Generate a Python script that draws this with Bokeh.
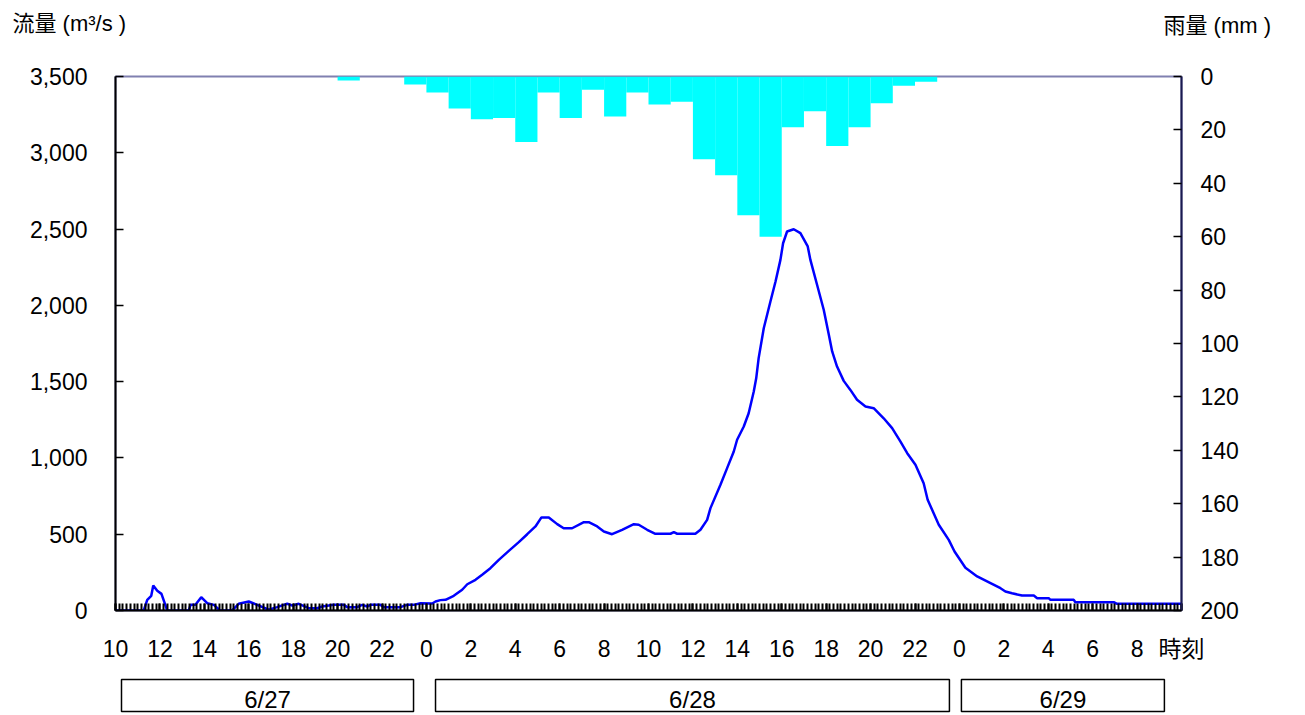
from bokeh.plotting import figure
from bokeh.models import Range1d, LinearAxis, FixedTicker, NumeralTickFormatter
from bokeh.layouts import column
from bokeh.core.properties import value
from bokeh.embed import file_html
from bokeh.resources import INLINE

# ---------------- data ----------------
# time axis: hours elapsed since 6/27 10:00
x_tick_hours = [0, 2, 4, 6, 8, 10, 12, 14, 16, 18, 20, 22, 24, 26, 28, 30, 32, 34, 36, 38, 40, 42, 44, 46, 48]
x_tick_labels = ["10", "12", "14", "16", "18", "20", "22", "0", "2", "4", "6", "8", "10", "12",
                 "14", "16", "18", "20", "22", "0", "2", "4", "6", "8", "時刻"]

# discharge (m3/s)
flow_hours = [0.0, 0.3, 1.27, 1.43, 1.61, 1.70, 1.88, 2.07, 2.33, 3.30, 3.38, 3.60, 3.86, 4.13, 4.43,
              4.70, 5.25, 5.55, 6.00, 6.38, 6.90, 7.28, 7.73, 7.96, 8.25, 8.70, 9.08, 9.31, 9.83,
              10.28, 10.43, 10.88, 11.11, 11.33, 11.48, 11.93, 12.08, 12.83, 13.13, 13.43, 13.73,
              14.26, 14.41, 14.63, 14.86, 15.23, 15.61, 15.84, 16.21, 16.51, 16.88, 17.26, 17.71,
              18.16, 18.54, 18.91, 19.18, 19.51, 19.89, 20.18, 20.56, 21.09, 21.31, 21.69, 21.99,
              22.36, 22.81, 23.34, 23.56, 23.94, 24.31, 24.99, 25.14, 25.29, 26.11, 26.34, 26.64,
              26.79, 27.24, 27.54, 27.84, 27.99, 28.29, 28.51, 28.74, 28.85, 28.96, 29.19, 29.49,
              29.72, 29.94, 30.06, 30.24, 30.54, 30.84, 31.17, 31.29, 31.59, 31.89, 32.12, 32.27,
              32.49, 32.79, 33.09, 33.39, 33.77, 34.14, 34.59, 34.97, 35.34, 35.65, 36.02, 36.39,
              36.57, 37.07, 37.52, 37.78, 38.27, 38.80, 39.40, 39.85, 40.07, 40.37, 40.82, 41.35,
              41.50, 42.02, 42.10, 43.15, 43.22, 44.95, 45.10, 48.0]
flow_values = [0, 0, 0, 70, 96, 164, 129, 109, 0, 0, 37, 37, 87, 48, 37,
               0, 0, 44, 59, 37, 5, 22, 44, 33, 44, 15, 15, 26, 37,
               37, 22, 22, 37, 26, 37, 37, 22, 22, 37, 37, 48,
               46, 59, 68, 70, 96, 136, 172, 201, 234, 277, 332, 391,
               448, 500, 551, 610, 610, 566, 539, 539, 579, 579, 551, 518,
               500, 529, 566, 562, 529, 503, 503, 513, 503, 503, 529, 594,
               671, 824, 933, 1042, 1119, 1206, 1293, 1435, 1522, 1654, 1850, 2025,
               2156, 2298, 2407, 2484, 2499, 2473, 2386, 2298, 2135, 1971, 1807, 1698,
               1599, 1505, 1446, 1381, 1337, 1326, 1260, 1195, 1108, 1031, 955, 834,
               726, 562, 463, 387, 280, 223, 179, 146, 125, 113, 98, 98,
               81, 81, 70, 70, 54, 54, 44, 44]

# hourly rainfall (mm), hour start since 6/27 10:00
rain_hours = [10, 13, 14, 15, 16, 17, 18, 19, 20, 21, 22, 23, 24, 25, 26, 27, 28, 29, 30, 31, 32, 33, 34, 35, 36]
rain_values = [1.5, 3, 6, 12, 16, 15.5, 24.5, 6, 15.5, 5, 15, 6, 10.5, 9.5, 31, 37, 52, 60, 19, 13, 26, 19, 10, 3.5, 2]

flow_ticks = [0, 500, 1000, 1500, 2000, 2500, 3000, 3500]
rain_ticks = [0, 20, 40, 60, 80, 100, 120, 140, 160, 180, 200]

date_labels = ["6/27", "6/28", "6/29"]
date_box_left = [0.27, 14.41, 38.09]
date_box_right = [13.42, 37.55, 47.23]

flow_title = "流量 (m³/s )"
rain_title = "雨量 (mm )"

# ---------------- styling ----------------
W = 1297
NUM_FONT = "Liberation Sans"
MIX_FONT = "Liberation Sans, Noto Sans CJK JP"

# header with the two axis titles (pixel-unit canvas)
p0 = figure(width=W, height=40, x_range=Range1d(0, W), y_range=Range1d(0, 40),
            output_backend="svg", toolbar_location=None, x_axis_type=None, y_axis_type=None,
            min_border_left=0, min_border_right=0, min_border_top=0, min_border_bottom=0)
if "frame_align" in p0.properties():
    p0.frame_align = False
p0.outline_line_color = None
p0.background_fill_color = "white"
p0.border_fill_color = "white"
p0.text(x=[12, 1163], y=[17, 15], text=[flow_title, rain_title], text_font=value(MIX_FONT),
        text_font_size="22px", text_align="left", text_baseline="middle", text_color="black")

# main chart
p = figure(width=W, height=628, x_range=Range1d(0, 48), y_range=Range1d(0, 3500),
           output_backend="svg", toolbar_location=None,
           min_border_left=115, min_border_right=116, min_border_top=36, min_border_bottom=58)
p.extra_y_ranges = {"rain": Range1d(start=200, end=0)}
p.background_fill_color = "white"
p.border_fill_color = "white"
p.outline_line_color = "#8080B0"
p.outline_line_width = 2
p.xgrid.visible = False
p.ygrid.visible = False

# rain bars (reversed axis, hanging from top)
p.quad(left=rain_hours, right=[h + 1 for h in rain_hours], bottom=[0] * len(rain_values), top=rain_values,
       y_range_name="rain", fill_color="#00FFFF", line_color=None)

# hydrograph
p.line(flow_hours, flow_values, line_color="#0000FF", line_width=2.5)

# bottom axis
xa = p.xaxis[0]
minor = [i / 6 for i in range(0, 48 * 6 + 1)]
xa.ticker = FixedTicker(ticks=x_tick_hours, minor_ticks=minor)
xa.major_label_overrides = {h: l for h, l in zip(x_tick_hours, x_tick_labels)}
xa.axis_line_color = "black"
xa.axis_line_width = 2
xa.major_tick_in = 7
xa.major_tick_out = 0
xa.minor_tick_in = 7
xa.minor_tick_out = 0
xa.major_tick_line_width = 2
xa.minor_tick_line_width = 2
xa.major_tick_line_color = "black"
xa.minor_tick_line_color = "black"
xa.major_label_standoff = 25
xa.major_label_text_font = MIX_FONT
xa.major_label_text_font_size = "23px"
xa.major_label_text_color = "black"

# left axis
ya = p.yaxis[0]
ya.ticker = FixedTicker(ticks=flow_ticks)
ya.formatter = NumeralTickFormatter(format="0,0")
ya.axis_line_color = "black"
ya.axis_line_width = 2
ya.major_tick_in = 8
ya.major_tick_out = 0
ya.major_tick_line_color = "black"
ya.major_tick_line_width = 1.5
ya.minor_tick_line_color = None
ya.major_label_standoff = 28
ya.major_label_text_font = NUM_FONT
ya.major_label_text_font_size = "23px"
ya.major_label_text_color = "black"

# right axis
ra = LinearAxis(y_range_name="rain", ticker=FixedTicker(ticks=rain_ticks))
ra.axis_line_color = "#1A1A50"
ra.axis_line_width = 2
ra.major_tick_in = 8
ra.major_tick_out = 0
ra.major_tick_line_color = "black"
ra.major_tick_line_width = 1.5
ra.minor_tick_line_color = None
ra.major_label_standoff = 19
ra.major_label_text_font = NUM_FONT
ra.major_label_text_font_size = "23px"
ra.major_label_text_color = "black"
p.add_layout(ra, "right")

# date boxes
p2 = figure(width=W, height=45, x_range=p.x_range, y_range=Range1d(0, 45),
            output_backend="svg", toolbar_location=None, x_axis_type=None, y_axis_type=None,
            min_border_left=115, min_border_right=116, min_border_top=0, min_border_bottom=0)
p2.outline_line_color = None
p2.background_fill_color = "white"
p2.border_fill_color = "white"
p2.quad(left=date_box_left, right=date_box_right, bottom=[2] * 3, top=[34] * 3,
        fill_color=None, line_color="black", line_width=1.5)
p2.text(x=[(a + b) / 2 for a, b in zip(date_box_left, date_box_right)], y=[14] * 3, text=date_labels,
        text_font=value(NUM_FONT), text_font_size="24px", text_align="center",
        text_baseline="middle", text_color="black")

layout = column(p0, p, p2, spacing=0)
open("out.html", "w").write(file_html(layout, INLINE))
